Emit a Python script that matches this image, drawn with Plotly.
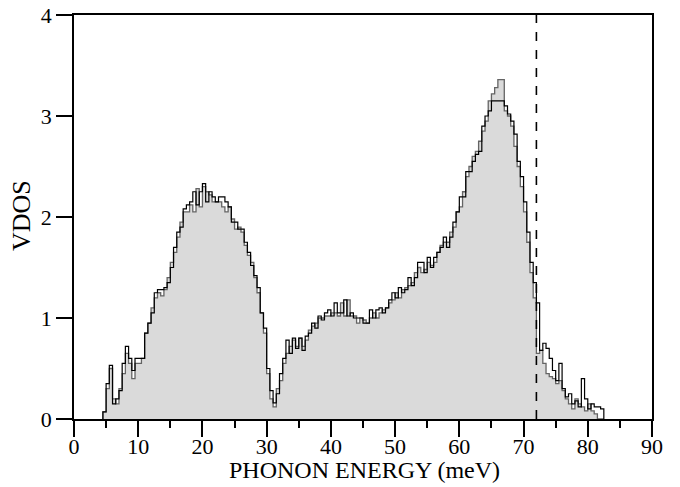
import numpy as np
import plotly.graph_objects as go

# Bin grid (meV): 0.5 meV bins starting at 4.5 meV
bin_start = 4.5
bin_width = 0.5

# Filled (gray) VDOS, one value per bin
vdos_fill = [
    0.07, 0.30, 0.50, 0.20, 0.15, 0.30, 0.45, 0.65, 0.55, 0.40,  # 4.5-9.5
    0.55, 0.55, 0.60, 0.85, 0.95, 1.10, 1.20, 1.25, 1.22, 1.28,  # 9.5-14.5
    1.40, 1.55, 1.65, 1.80, 1.95, 2.05, 2.05, 2.12, 2.05, 2.28,  # 14.5-19.5
    2.10, 2.30, 2.25, 2.22, 2.15, 2.15, 2.15, 2.10, 2.05, 2.10,  # 19.5-24.5
    1.98, 1.88, 1.90, 1.85, 1.72, 1.62, 1.55, 1.40, 1.25, 1.05,  # 24.5-29.5
    0.85, 0.45, 0.20, 0.12, 0.30, 0.38, 0.55, 0.65, 0.72, 0.78,  # 29.5-34.5
    0.72, 0.80, 0.72, 0.78, 0.88, 0.92, 0.95, 1.00, 1.00, 1.02,  # 34.5-39.5
    1.02, 1.05, 1.05, 1.02, 1.15, 1.02, 1.18, 1.02, 1.02, 0.95,  # 39.5-44.5
    1.00, 0.98, 0.95, 1.00, 1.05, 1.00, 1.05, 1.08, 1.10, 1.15,  # 44.5-49.5
    1.18, 1.25, 1.20, 1.28, 1.30, 1.32, 1.35, 1.45, 1.50, 1.45,  # 49.5-54.5
    1.48, 1.55, 1.52, 1.55, 1.65, 1.72, 1.75, 1.75, 1.85, 1.90,  # 54.5-59.5
    2.05, 2.10, 2.25, 2.40, 2.50, 2.60, 2.65, 2.75, 2.85, 2.95,  # 59.5-64.5
    3.15, 3.22, 3.28, 3.36, 3.36, 3.05, 3.00, 2.90, 2.70, 2.50,  # 64.5-69.5
    2.30, 2.05, 1.75, 1.45, 1.20, 0.65, 0.68, 0.55, 0.45, 0.42,  # 69.5-74.5
    0.40, 0.35, 0.38, 0.28, 0.20, 0.15, 0.10, 0.20, 0.15, 0.12,  # 74.5-79.5
    0.08, 0.15, 0.08, 0.05, 0.00, 0.00,                          # 79.5-82.5
]

# Outline (black) VDOS, one value per bin
vdos_line = [
    0.07, 0.35, 0.53, 0.15, 0.20, 0.28, 0.55, 0.72, 0.60, 0.48,
    0.60, 0.60, 0.60, 0.85, 0.95, 1.05, 1.25, 1.28, 1.28, 1.30,
    1.35, 1.50, 1.70, 1.85, 1.90, 2.08, 2.12, 2.15, 2.25, 2.12,
    2.25, 2.33, 2.15, 2.25, 2.20, 2.15, 2.20, 2.20, 2.15, 2.10,
    1.95, 1.95, 1.88, 1.88, 1.75, 1.65, 1.52, 1.42, 1.30, 1.05,
    0.90, 0.50, 0.28, 0.16, 0.25, 0.45, 0.60, 0.78, 0.65, 0.80,
    0.70, 0.80, 0.68, 0.82, 0.85, 0.95, 0.90, 1.02, 0.98, 1.05,
    1.08, 1.02, 1.15, 1.05, 1.05, 1.18, 1.02, 1.05, 1.00, 1.00,
    1.00, 0.95, 0.95, 1.08, 1.00, 1.08, 1.10, 1.05, 1.10, 1.18,
    1.25, 1.20, 1.30, 1.25, 1.28, 1.40, 1.32, 1.40, 1.55, 1.55,
    1.45, 1.60, 1.50, 1.60, 1.65, 1.70, 1.80, 1.70, 1.80, 1.95,
    2.05, 2.20, 2.20, 2.45, 2.45, 2.55, 2.62, 2.65, 2.90, 3.00,
    3.05, 3.15, 3.15, 3.15, 3.15, 3.10, 3.02, 2.95, 2.82, 2.55,
    2.40, 2.15, 1.85, 1.55, 1.35, 1.15, 0.68, 0.75, 0.70, 0.60,
    0.48, 0.38, 0.55, 0.30, 0.22, 0.25, 0.15, 0.18, 0.12, 0.40,
    0.20, 0.10, 0.15, 0.12, 0.12, 0.10,
]

cutoff_energy = 72.0
x_ticks = [0, 10, 20, 30, 40, 50, 60, 70, 80, 90]
y_ticks = [0, 1, 2, 3, 4]
x_title = "PHONON ENERGY (meV)"
y_title = "VDOS"


def step_xy(values):
    n = len(values)
    edges = bin_start + bin_width * np.arange(n + 1)
    xs = np.concatenate([[edges[0]], edges[:-1], [edges[-1], edges[-1]]])
    ys = np.concatenate([[0.0], values, [values[-1], 0.0]])
    return xs, ys


xf, yf = step_xy(vdos_fill)
xl, yl = step_xy(vdos_line)

fig = go.Figure()
fig.add_trace(go.Scatter(
    x=xf, y=yf, mode="lines", line_shape="hv",
    fill="tozeroy", fillcolor="rgb(218,218,218)",
    line=dict(color="rgb(100,100,100)", width=1.3),
    showlegend=False, hoverinfo="skip",
))
fig.add_trace(go.Scatter(
    x=xl, y=yl, mode="lines", line_shape="hv",
    line=dict(color="black", width=1.2),
    showlegend=False, hoverinfo="skip",
))

fig.add_shape(type="line", xref="x", yref="paper",
              x0=cutoff_energy, x1=cutoff_energy, y0=0, y1=1,
              line=dict(color="black", width=1.6, dash="dash"))

font_family = "Liberation Serif, Times New Roman, serif"

fig.update_xaxes(
    range=[0, 90], tickvals=x_ticks, ticks="outside", ticklen=16, tickwidth=1.5,
    tickcolor="black", showline=True, linecolor="black", linewidth=1.5,
    mirror=True, showgrid=False, zeroline=False, automargin=False,
    minor=dict(dtick=5, ticks="outside", ticklen=7, tickwidth=1.5, tickcolor="black"),
    tickfont=dict(family=font_family, size=22, color="black"),
    ticklabelstandoff=-9,
)
fig.update_yaxes(
    range=[0, 4], tickvals=y_ticks, ticks="outside", ticklen=16, tickwidth=1.5,
    tickcolor="black", showline=True, linecolor="black", linewidth=1.5,
    mirror=True, showgrid=False, zeroline=False, automargin=False,
    tickfont=dict(family=font_family, size=22, color="black"),
    ticklabelstandoff=0,
)

fig.add_annotation(text=x_title, xref="paper", yref="paper", x=0.503, y=-0.127,
                   xanchor="center", yanchor="middle", showarrow=False,
                   font=dict(family=font_family, size=24, color="black"))
fig.add_annotation(text=y_title, xref="paper", yref="paper", x=-0.09, y=0.505,
                   xanchor="center", yanchor="middle", showarrow=False, textangle=-90,
                   font=dict(family=font_family, size=26, color="black"))

fig.update_layout(
    width=680, height=487,
    margin=dict(l=74, r=28, t=15, b=68),
    plot_bgcolor="white", paper_bgcolor="white",
)

fig.write_html("out.html", config={"displayModeBar": False},
               post_script="document.body.style.margin='0';document.body.style.padding='0';")
